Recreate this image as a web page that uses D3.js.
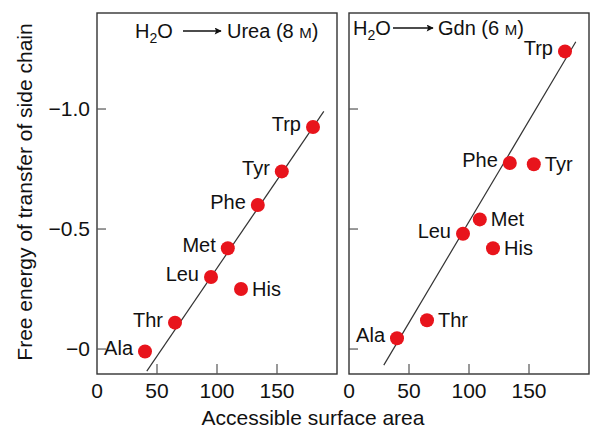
<!DOCTYPE html>
<html>
<head>
<meta charset="utf-8">
<script src="https://cdn.jsdelivr.net/npm/d3@7"></script>
<style>
  body { margin: 0; background: #fff; }
  svg { display: block; font-family: "Liberation Sans", Arial, Helvetica, sans-serif; }
  .frame { fill: none; stroke: #333; stroke-width: 1.4; }
  .tick line { stroke: #555; stroke-width: 1.2; }
  .fit { stroke: #333; stroke-width: 1.2; }
  .dot { fill: #e8141c; }
</style>
</head>
<body>
<svg width="590" height="429"></svg>
<script>
const residues = ["Ala", "Thr", "Leu", "Met", "His", "Phe", "Tyr", "Trp"];
const surfaceArea = [40, 65, 95, 109, 120, 134, 154, 180];
const ureaEnergy = [0.01, -0.11, -0.3, -0.42, -0.25, -0.6, -0.74, -0.925];
const gdnEnergy = [-0.045, -0.12, -0.48, -0.54, -0.42, -0.775, -0.77, -1.24];
const ureaFit = [[41.5, 0.092], [189, -0.99]];
const gdnFit = [[29, 0.067], [189, -1.28]];
const xTicks = [0, 50, 100, 150];
const yTicks = [0, -0.5, -1.0];
const yTickLabels = ["\u22120", "\u22120.5", "\u22121.0"];

// which side the residue name goes on
const ureaSide = { His: "right" };
const gdnSide = { Thr: "right", Met: "right", His: "right", Tyr: "right" };

const svg = d3.select("svg");

const y = d3.scaleLinear().domain([0.104, -1.4]).range([374, 13]);

const panels = [
  { x: d3.scaleLinear().domain([0, 200]).range([97, 337]), values: ureaEnergy, fit: ureaFit, side: ureaSide, solvent: "Urea (8 ", conc: "M", tx: 135, ax: [183, 221], sx: 227, ty: 38, yLabels: true },
  { x: d3.scaleLinear().domain([0, 200]).range([349, 589]), values: gdnEnergy, fit: gdnFit, side: gdnSide, solvent: "Gdn (6 ", conc: "M", tx: 353, ax: [393, 433], sx: 438, ty: 35, yLabels: false }
];

svg.append("defs").append("marker")
  .attr("id", "arrow")
  .attr("viewBox", "0 0 10 10")
  .attr("refX", 9).attr("refY", 5)
  .attr("markerWidth", 11).attr("markerHeight", 7)
  .attr("markerUnits", "userSpaceOnUse")
  .attr("orient", "auto")
  .append("path").attr("d", "M0,0L10,5L0,10L2,5Z").attr("fill", "#111");

panels.forEach((p) => {
  const g = svg.append("g");
  const [x0, x1] = p.x.range();
  const [y1, y0] = y.range();

  g.append("rect").attr("class", "frame")
    .attr("x", x0).attr("y", y0).attr("width", x1 - x0).attr("height", y1 - y0);

  // x ticks (inward)
  g.append("g").attr("class", "tick")
    .selectAll("line").data(xTicks.slice(1)).join("line")
    .attr("x1", (d) => p.x(d)).attr("x2", (d) => p.x(d))
    .attr("y1", y1).attr("y2", y1 - 10);
  g.append("g").selectAll("text").data(xTicks).join("text")
    .attr("x", (d) => p.x(d)).attr("y", 398)
    .attr("text-anchor", "middle").attr("font-size", 21).attr("fill", "#111")
    .text((d) => d);

  // y ticks (inward)
  g.append("g").attr("class", "tick")
    .selectAll("line").data(yTicks).join("line")
    .attr("x1", x0).attr("x2", x0 + 9)
    .attr("y1", (d) => y(d)).attr("y2", (d) => y(d));
  if (p.yLabels) {
    g.append("g").selectAll("text").data(yTicks).join("text")
      .attr("x", x0 - 7).attr("y", (d) => y(d))
      .attr("dy", "0.35em")
      .attr("text-anchor", "end").attr("font-size", 21).attr("fill", "#111")
      .text((d, i) => yTickLabels[i]);
  }

  // fit line
  g.append("line").attr("class", "fit")
    .attr("x1", p.x(p.fit[0][0])).attr("y1", y(p.fit[0][1]))
    .attr("x2", p.x(p.fit[1][0])).attr("y2", y(p.fit[1][1]));

  const pts = residues.map((name, i) => ({ name, a: surfaceArea[i], e: p.values[i], side: p.side[name] || "left" }));

  g.append("g").selectAll("circle").data(pts).join("circle")
    .attr("class", "dot")
    .attr("cx", (d) => p.x(d.a)).attr("cy", (d) => y(d.e)).attr("r", 7);

  g.append("g").selectAll("text").data(pts).join("text")
    .attr("x", (d) => p.x(d.a) + (d.side === "left" ? -12 : 11))
    .attr("y", (d) => y(d.e) + (d.side === "left" ? -3 : 0))
    .attr("dy", "0.35em")
    .attr("text-anchor", (d) => (d.side === "left" ? "end" : "start"))
    .attr("font-size", 20).attr("fill", "#111")
    .text((d) => d.name);

  // title: H2O -> solvent
  const t = g.append("text").attr("x", p.tx).attr("y", p.ty)
    .attr("font-size", 20).attr("fill", "#111");
  t.append("tspan").text("H");
  t.append("tspan").attr("font-size", 14).attr("dy", 5).text("2");
  t.append("tspan").attr("dy", -5).text("O");
  g.append("line")
    .attr("x1", p.ax[0]).attr("x2", p.ax[1])
    .attr("y1", p.ty - 7).attr("y2", p.ty - 7)
    .attr("stroke", "#111").attr("stroke-width", 1.3)
    .attr("marker-end", "url(#arrow)");
  const s = g.append("text").attr("x", p.sx).attr("y", p.ty)
    .attr("font-size", 20).attr("fill", "#111");
  s.append("tspan").text(p.solvent);
  s.append("tspan").attr("font-size", 15).text(p.conc);
  s.append("tspan").text(")");
});

svg.append("text")
  .attr("x", 313).attr("y", 425)
  .attr("text-anchor", "middle").attr("font-size", 21).attr("fill", "#111")
  .text("Accessible surface area");

svg.append("text")
  .attr("transform", "translate(32,192) rotate(-90)")
  .attr("text-anchor", "middle").attr("font-size", 21).attr("fill", "#111")
  .text("Free energy of transfer of side chain");
</script>
</body>
</html>
